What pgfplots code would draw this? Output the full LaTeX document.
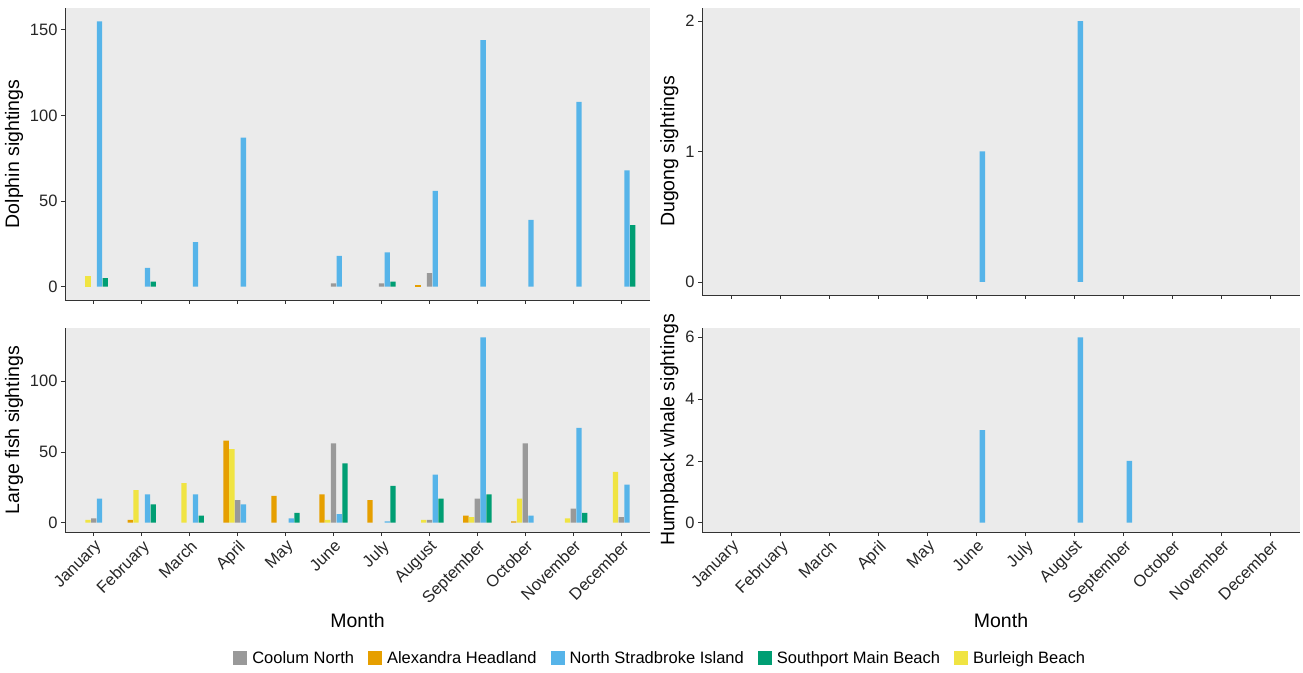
\documentclass[border=0pt]{standalone}
\usepackage{pgfplots}
\pgfplotsset{compat=1.18}
\usepackage{fontspec}
\setmainfont{Liberation Sans}
\definecolor{cA}{HTML}{E69F00}
\definecolor{cB}{HTML}{F0E442}
\definecolor{cC}{HTML}{999999}
\definecolor{cN}{HTML}{56B4E9}
\definecolor{cS}{HTML}{009E73}
\definecolor{bg}{HTML}{EBEBEB}
\definecolor{ax}{HTML}{333333}
\pgfplotsset{
  base/.style={scale only axis, xmin=0.4, xmax=12.6,
    axis background/.style={fill=bg},
    axis x line*=bottom, axis y line*=left,
    axis line style={-, ax, line width=0.8pt},
    tick style={ax, line width=0.8pt}, tick align=outside, major tick length=4pt,
    xtick={1,...,12}, ybar, bar width=0.11,
    ticklabel style={font=\fontsize{16.5}{18}\selectfont, text=black!85},
    label style={font=\fontsize{19.5}{22}\selectfont},
    /pgf/number format/assume math mode=true,
    every axis plot/.append style={draw=none}},
  nolab/.style={xticklabels={}},
  lab/.style={xticklabels={January,February,March,April,May,June,July,August,September,October,November,December},
    xticklabel style={rotate=45, anchor=north east, inner sep=2pt}, xlabel={Month}},
  pA/.style={fill=cA, bar shift=-0.24},
  pB/.style={fill=cB, bar shift=-0.12},
  pC/.style={fill=cC, bar shift=0},
  pN/.style={fill=cN, bar shift=0.12},
  pS/.style={fill=cS, bar shift=0.24},
}
\begin{document}
\begin{tikzpicture}
\path[use as bounding box] (0pt,0pt) rectangle (1303pt,672pt);
% Dolphin
\begin{axis}[base, nolab, anchor=south west, at={(65pt,372pt)}, width=585pt, height=292pt,
  ymin=-7.75, ymax=162.75, ytick={0,50,100,150}, ylabel={Dolphin sightings}]
\addplot[pA] coordinates {(8,1)};
\addplot[pB] coordinates {(1,6)};
\addplot[pC] coordinates {(6,2) (7,2) (8,8)};
\addplot[pN] coordinates {(1,155) (2,11) (3,26) (4,87) (6,18) (7,20) (8,56) (9,144) (10,39) (11,108) (12,68)};
\addplot[pS] coordinates {(1,5) (2,3) (7,3) (12,36)};
\end{axis}
% Large fish
\begin{axis}[base, lab, anchor=south west, at={(65pt,140pt)}, width=585pt, height=204pt,
  ymin=-6.55, ymax=137.55, ytick={0,50,100}, ylabel={Large fish sightings}]
\addplot[pA] coordinates {(2,2) (4,58) (5,19) (6,20) (7,16) (9,5) (10,1)};
\addplot[pB] coordinates {(1,2) (2,23) (3,28) (4,52) (6,2) (8,2) (9,4) (10,17) (11,3) (12,36)};
\addplot[pC] coordinates {(1,3) (4,16) (6,56) (8,2) (9,17) (10,56) (11,10) (12,4)};
\addplot[pN] coordinates {(1,17) (2,20) (3,20) (4,13) (5,3) (6,6) (7,1) (8,34) (9,131) (10,5) (11,67) (12,27)};
\addplot[pS] coordinates {(2,13) (3,5) (5,7) (6,42) (7,26) (8,17) (9,20) (11,7)};
\end{axis}
% Dugong
\begin{axis}[base, nolab, anchor=south west, at={(702pt,377pt)}, width=598pt, height=287pt,
  ymin=-0.1, ymax=2.1, ytick={0,1,2}, ylabel={Dugong sightings}]
\addplot[pN] coordinates {(6,1) (8,2)};
\end{axis}
% Whale
\begin{axis}[base, lab, anchor=south west, at={(702pt,140pt)}, width=598pt, height=204pt,
  ymin=-0.3, ymax=6.3, ytick={0,2,4,6}, ylabel={Humpback whale sightings},
  legend columns=5,
  legend style={at={(-0.07,-0.62)}, anchor=center, draw=none, fill=none,
    font=\fontsize{16.5}{18}\selectfont, /tikz/every even column/.append style={column sep=12pt}},
  legend image code/.code={\fill[#1] (0pt,-7pt) rectangle (14pt,7pt);}]
\addplot[pN, forget plot] coordinates {(6,3) (8,6) (9,2)};
\addlegendimage{fill=cC}\addlegendentry{\hspace{3pt}Coolum North}
\addlegendimage{fill=cA}\addlegendentry{\hspace{3pt}Alexandra Headland}
\addlegendimage{fill=cN}\addlegendentry{\hspace{3pt}North Stradbroke Island}
\addlegendimage{fill=cS}\addlegendentry{\hspace{3pt}Southport Main Beach}
\addlegendimage{fill=cB}\addlegendentry{\hspace{3pt}Burleigh Beach}
\end{axis}
\end{tikzpicture}
\end{document}
